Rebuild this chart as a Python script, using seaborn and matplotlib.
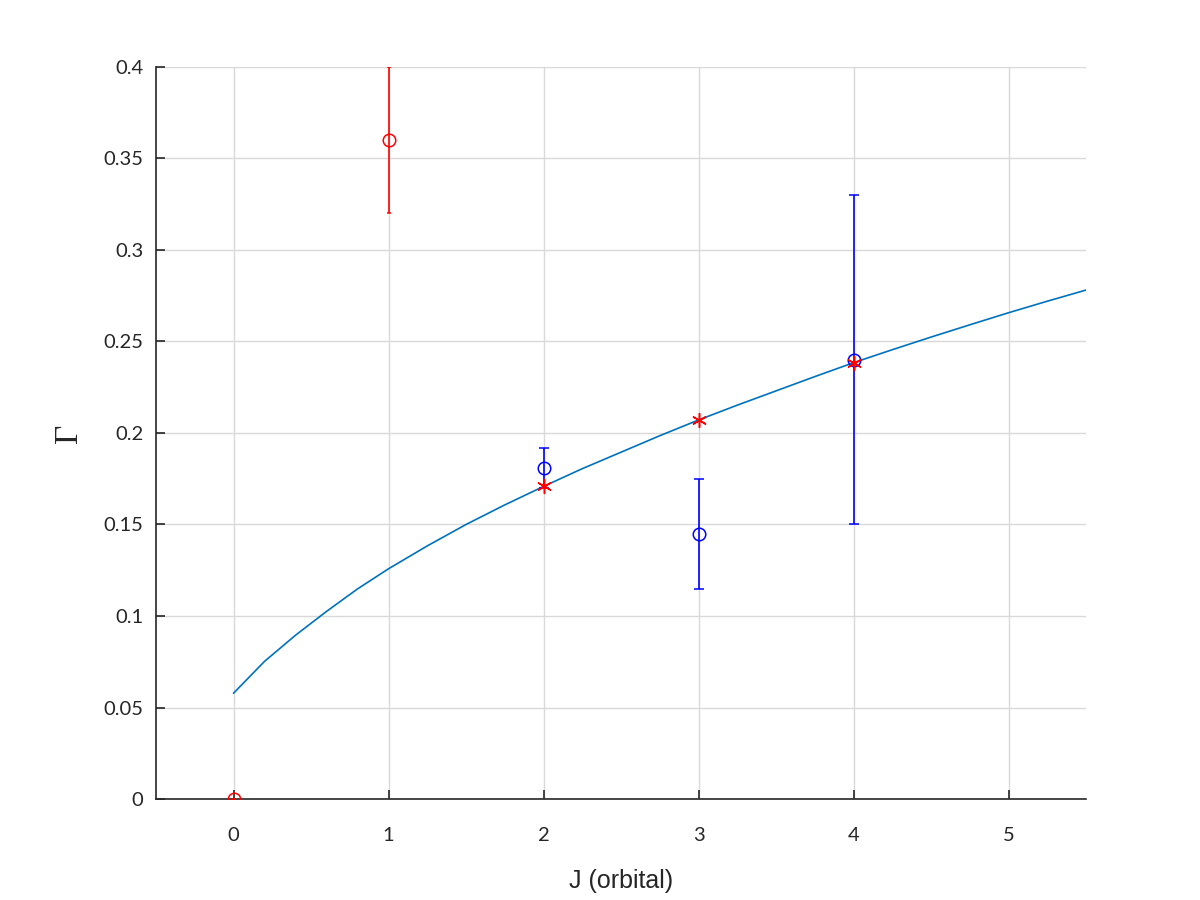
import numpy as np
import pandas as pd
import matplotlib
matplotlib.use("Agg")
import matplotlib.pyplot as plt
import seaborn as sns

# ---- data ----
curve_x = [0.0, 0.2, 0.4, 0.6, 0.8, 1.0, 1.25, 1.5, 1.75, 2.0, 2.25, 2.5, 2.75, 3.0,
           3.25, 3.5, 3.75, 4.0, 4.25, 4.5, 4.75, 5.0, 5.25, 5.5]
curve_y = [0.0578, 0.0752, 0.0895, 0.1025, 0.1148, 0.1258, 0.1383, 0.1500, 0.1607, 0.1708,
           0.1805, 0.1895, 0.1985, 0.2071, 0.2152, 0.2230, 0.2308, 0.2384, 0.2455, 0.2524,
           0.2591, 0.2657, 0.2720, 0.2781]

red_x = [0, 1]
red_y = [0.0, 0.36]
red_err = [0.0, 0.04]

blue_x = [2, 3, 4]
blue_y = [0.181, 0.145, 0.240]
blue_err = [0.011, 0.030, 0.090]

star_x = [2, 3, 4]
star_y = [0.171, 0.207, 0.238]

xticks = [0, 1, 2, 3, 4, 5]
yticks = [0, 0.05, 0.1, 0.15, 0.2, 0.25, 0.3, 0.35, 0.4]
ytick_labels = ["0", "0.05", "0.1", "0.15", "0.2", "0.25", "0.3", "0.35", "0.4"]

sns.set_theme(style="whitegrid")
plt.rcParams["font.family"] = ["Lato", "DejaVu Sans"]

fig = plt.figure(figsize=(12, 9), dpi=100)
ax = fig.add_axes([0.13, 0.1122, 0.775, 0.8134])

dark = "#262626"
curve_col = (0.0, 0.447, 0.741)

sns.lineplot(x=curve_x, y=curve_y, ax=ax, color=curve_col, linewidth=1.2, sort=False, zorder=2)

ax.errorbar(red_x, red_y, yerr=red_err, fmt="o", mfc="none", mec="red", color="red",
            ms=9, mew=1.1, elinewidth=1.2, capsize=1.2, zorder=3)
ax.errorbar(blue_x, blue_y, yerr=blue_err, fmt="o", mfc="none", mec="blue", color="blue",
            ms=9, mew=1.1, elinewidth=1.2, capsize=3.5, zorder=3)
sns.scatterplot(x=star_x, y=star_y, ax=ax, marker=(6, 2, 0), s=100, color="red",
                edgecolor="red", linewidth=1.1, zorder=4)

ax.set_xlim(-0.5, 5.5)
ax.set_ylim(0, 0.4)
ax.set_xticks(xticks)
ax.set_xticklabels([str(t) for t in xticks])
ax.set_yticks(yticks)
ax.set_yticklabels(ytick_labels)

ax.set_facecolor("white")
ax.grid(True, color="#d9d9d9", linewidth=1.0)
for s in ["top", "right"]:
    ax.spines[s].set_visible(False)
for s in ["left", "bottom"]:
    ax.spines[s].set_visible(True)
    ax.spines[s].set_color(dark)
    ax.spines[s].set_linewidth(1.2)

ax.tick_params(axis="both", direction="in", length=6.5, width=1.2, colors=dark, labelsize=14.5,
               bottom=True, left=True, top=False, right=False)
ax.tick_params(axis="x", pad=20)
ax.tick_params(axis="y", pad=9)
for lab in ax.get_xticklabels() + ax.get_yticklabels():
    lab.set_color(dark)

ax.set_xlabel("J (orbital)", fontsize=18, color=dark, family=["Liberation Sans", "DejaVu Sans"], labelpad=18)
ax.set_ylabel("Γ", fontsize=24, color=dark, family=["Liberation Serif", "DejaVu Serif"], labelpad=14)

fig.savefig("out.png", dpi=100, facecolor="white")
